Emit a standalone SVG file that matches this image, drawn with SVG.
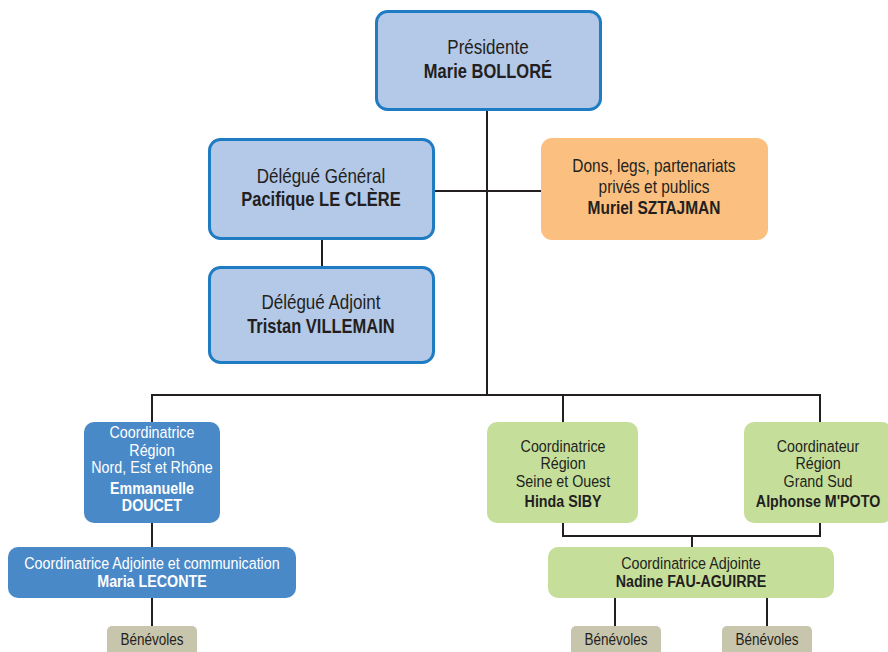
<svg xmlns="http://www.w3.org/2000/svg" width="888" height="652" viewBox="0 0 888 652">
<style>
text{font-family:"Liberation Sans",Arial,sans-serif;text-anchor:middle;fill:#231f20}
.b{font-weight:bold}
.w{fill:#ffffff}
.lead{fill:#b4c8e7;stroke:#1f7cc2;stroke-width:3}
.org{fill:#fbc07f}
.reg{fill:#4a89c8}
.grn{fill:#c5df9b}
.ben{fill:#c8c5ad}
.ln{stroke:#231f20;stroke-width:2;fill:none}
.t17{font-size:20px}
.t16{font-size:19.4px}
.t15{font-size:18.2px}
.t14{font-size:16.8px}
.t13{font-size:15.9px}
</style>
<rect width="888" height="652" fill="#ffffff"/>
<g id="connectors">
<path class="ln" d="M487 110V395M434 191H541M322 239V267"/>
<path class="ln" d="M152 422V395H820V422M563 395V422"/>
<path class="ln" d="M152 523V547M152 598V627"/>
<path class="ln" d="M563 523V536H820V523M692 536V547M615 598V627M767 598V627"/>
</g>
<g id="presidente">
<rect class="lead" x="376.5" y="11.5" width="224" height="98" rx="11"/>
<g transform="scale(0.85 1)">
<text class="t17" x="574.1" y="54">Présidente</text>
<text class="t16 b" x="574.1" y="78">Marie BOLLORÉ</text>
</g>
</g>
<g id="delegue-general">
<rect class="lead" x="209.5" y="139.5" width="224" height="99" rx="11"/>
<g transform="scale(0.85 1)">
<text class="t17" x="377.6" y="183">Délégué Général</text>
<text class="t16 b" x="377.6" y="206">Pacifique LE CLÈRE</text>
</g>
</g>
<g id="dons">
<rect class="org" x="541" y="138" width="227" height="102" rx="11"/>
<g transform="scale(0.85 1)">
<text class="t15" x="769.4" y="172">Dons, legs, partenariats</text>
<text class="t15" x="769.4" y="193">privés et publics</text>
<text class="t15 b" x="769.4" y="214">Muriel SZTAJMAN</text>
</g>
</g>
<g id="delegue-adjoint">
<rect class="lead" x="209.5" y="267.5" width="224" height="95" rx="11"/>
<g transform="scale(0.85 1)">
<text class="t17" x="377.6" y="309">Délégué Adjoint</text>
<text class="t16 b" x="377.6" y="333">Tristan VILLEMAIN</text>
</g>
</g>
<g id="coord-nord">
<rect class="reg" x="84" y="422" width="136" height="101" rx="10"/>
<g transform="scale(0.85 1)">
<text class="t14 w" x="178.8" y="438">Coordinatrice</text>
<text class="t14 w" x="178.8" y="456">Région</text>
<text class="t14 w" x="178.8" y="473">Nord, Est et Rhône</text>
<text class="t14 w b" x="178.8" y="494">Emmanuelle</text>
<text class="t14 w b" x="178.8" y="511">DOUCET</text>
</g>
</g>
<g id="coord-adj-comm">
<rect class="reg" x="8" y="547" width="288" height="51" rx="10"/>
<g transform="scale(0.85 1)">
<text class="t14 w" x="178.8" y="569">Coordinatrice Adjointe et communication</text>
<text class="t14 w b" x="178.8" y="587">Maria LECONTE</text>
</g>
</g>
<g id="benevoles-1">
<rect class="ben" x="107" y="626" width="90" height="40" rx="5"/>
<g transform="scale(0.85 1)">
<text class="t13" x="178.8" y="645">Bénévoles</text>
</g>
</g>
<g id="coord-seine">
<rect class="grn" x="487" y="422" width="151" height="101" rx="10"/>
<g transform="scale(0.85 1)">
<text class="t14" x="662.4" y="452">Coordinatrice</text>
<text class="t14" x="662.4" y="469">Région</text>
<text class="t14" x="662.4" y="487">Seine et Ouest</text>
<text class="t14 b" x="662.4" y="507">Hinda SIBY</text>
</g>
</g>
<g id="coord-sud">
<rect class="grn" x="744" y="422" width="148" height="101" rx="10"/>
<g transform="scale(0.85 1)">
<text class="t14" x="962.4" y="452">Coordinateur</text>
<text class="t14" x="962.4" y="469">Région</text>
<text class="t14" x="962.4" y="487">Grand Sud</text>
<text class="t14 b" x="962.4" y="507">Alphonse M'POTO</text>
</g>
</g>
<g id="coord-adj-sud">
<rect class="grn" x="548" y="547" width="286" height="51" rx="10"/>
<g transform="scale(0.85 1)">
<text class="t14" x="812.9" y="569">Coordinatrice Adjointe</text>
<text class="t14 b" x="812.9" y="587">Nadine FAU-AGUIRRE</text>
</g>
</g>
<g id="benevoles-2">
<rect class="ben" x="571" y="626" width="90" height="40" rx="5"/>
<g transform="scale(0.85 1)">
<text class="t13" x="724.7" y="645">Bénévoles</text>
</g>
</g>
<g id="benevoles-3">
<rect class="ben" x="722" y="626" width="90" height="40" rx="5"/>
<g transform="scale(0.85 1)">
<text class="t13" x="902.4" y="645">Bénévoles</text>
</g>
</g>
</svg>
